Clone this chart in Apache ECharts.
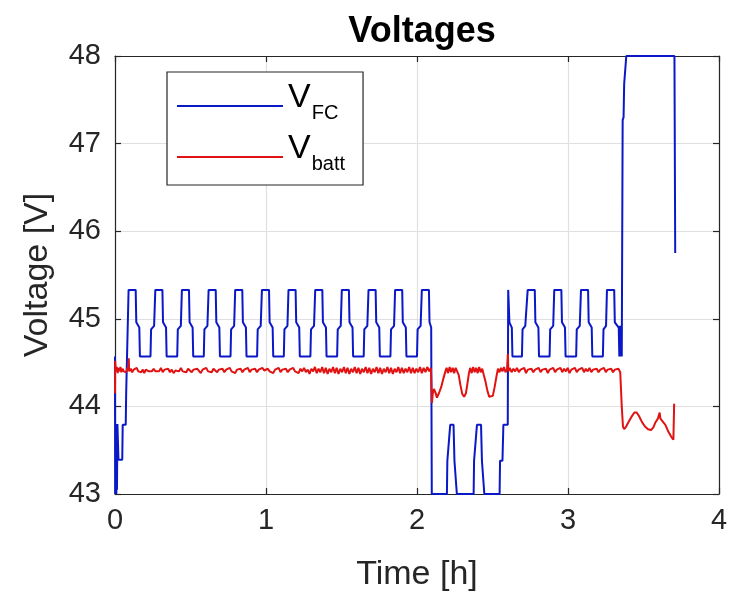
<!DOCTYPE html>
<html>
<head>
<meta charset="utf-8">
<script src="https://cdn.jsdelivr.net/npm/echarts@6/dist/echarts.min.js"></script>
<style>
  html, body { margin: 0; padding: 0; background: #fff; }
  #chart { width: 742px; height: 610px; }
</style>
</head>
<body>
<div id="chart"></div>
<script>
// tick labels
var xTicks = [0, 1, 2, 3, 4];
var yTicks = [43, 44, 45, 46, 47, 48];

// V_FC as [time h, volts]
var vfcStart = [[0.000,44.57],[0.001,43.00],[0.003,43.80],[0.005,43.00],[0.007,43.80],[0.009,43.00],[0.011,43.80],
  [0.013,43.05],[0.016,43.80],[0.020,43.80],[0.023,43.39],[0.048,43.39],[0.051,43.79],[0.071,43.79],[0.074,44.15],[0.084,44.15]];

var vfcBlockA = [
  [0.090,45.33],[0.137,45.33],[0.141,44.96],[0.161,44.90],[0.165,44.57],[0.235,44.57],[0.239,44.88],[0.259,44.92],
  [0.267,45.33],[0.314,45.33],[0.318,44.96],[0.338,44.90],[0.342,44.57],[0.412,44.57],[0.416,44.88],[0.436,44.92],
  [0.443,45.33],[0.490,45.33],[0.494,44.96],[0.514,44.90],[0.518,44.57],[0.588,44.57],[0.592,44.88],[0.612,44.92],
  [0.620,45.33],[0.667,45.33],[0.671,44.96],[0.691,44.90],[0.695,44.57],[0.765,44.57],[0.769,44.88],[0.789,44.92],
  [0.796,45.33],[0.843,45.33],[0.847,44.96],[0.867,44.90],[0.871,44.57],[0.941,44.57],[0.945,44.88],[0.965,44.92],
  [0.973,45.33],[1.020,45.33],[1.024,44.96],[1.044,44.90],[1.048,44.57],[1.118,44.57],[1.122,44.88],[1.142,44.92],
  [1.149,45.33],[1.196,45.33],[1.200,44.96],[1.220,44.90],[1.224,44.57],[1.294,44.57],[1.298,44.88],[1.318,44.92],
  [1.326,45.33],[1.373,45.33],[1.377,44.96],[1.397,44.90],[1.401,44.57],[1.471,44.57],[1.475,44.88],[1.495,44.92],
  [1.502,45.33],[1.549,45.33],[1.553,44.96],[1.573,44.90],[1.577,44.57],[1.647,44.57],[1.651,44.88],[1.671,44.92],
  [1.679,45.33],[1.726,45.33],[1.730,44.96],[1.750,44.90],[1.754,44.57],[1.824,44.57],[1.828,44.88],[1.848,44.92],
  [1.855,45.33],[1.902,45.33],[1.906,44.96],[1.926,44.90],[1.930,44.57],[2.000,44.57],[2.004,44.88],[2.024,44.92],
  [2.032,45.33],[2.079,45.33],[2.083,44.96],[2.094,44.90]];

var vfcLow = [[2.098,43.00],[2.198,43.00],[2.201,43.38],[2.210,43.38],[2.220,43.79],[2.242,43.79],[2.248,43.38],[2.258,43.38],[2.264,43.00],
  [2.375,43.00],[2.378,43.38],[2.388,43.38],[2.397,43.79],[2.424,43.79],[2.430,43.38],[2.440,43.38],[2.446,43.00],
  [2.547,43.00],[2.550,43.38],[2.566,43.38],[2.572,43.79],[2.601,43.79]];

var vfcBlockB = [[2.604,45.33],[2.608,45.33],[2.612,44.96],[2.628,44.90],[2.632,44.57],[2.695,44.57],[2.699,44.88],[2.717,44.92],
  [2.733,45.33],[2.780,45.33],[2.784,44.96],[2.804,44.90],[2.808,44.57],[2.878,44.57],[2.882,44.88],[2.902,44.92],
  [2.909,45.33],[2.956,45.33],[2.960,44.96],[2.980,44.90],[2.984,44.57],[3.054,44.57],[3.058,44.88],[3.078,44.92],
  [3.086,45.33],[3.133,45.33],[3.137,44.96],[3.157,44.90],[3.161,44.57],[3.231,44.57],[3.235,44.88],[3.252,44.92]];

var vfcEnd = [[3.258,45.33],[3.306,45.33],[3.310,44.96],[3.336,44.90],[3.340,44.57],[3.344,44.92],[3.348,44.57],[3.352,44.92],
  [3.356,44.57],[3.362,47.27],[3.368,47.30],[3.372,47.68],[3.380,47.70],[3.386,48.00],[3.705,48.00],[3.710,45.75]];

// V_batt
var battA = [[0.000,44.15],[0.001,44.52],[0.006,44.40],[0.012,44.45],[0.018,44.38],[0.024,44.44],[0.030,44.40],[0.036,44.45],
  [0.042,44.39],[0.050,44.43],[0.058,44.40],[0.066,44.42],[0.074,44.39],[0.082,44.44],[0.088,44.41],[0.091,44.55],[0.094,44.40],
  [0.104,44.43],[0.114,44.39],[0.124,44.42],[0.134,44.40],[0.144,44.44],[0.154,44.40],[0.164,44.42],[0.174,44.39],[0.184,44.42],
  [0.194,44.38],[0.204,44.42],[0.214,44.44],[0.224,44.40],[0.234,44.42],[0.244,44.40],[0.256,44.43],[0.268,44.40],[0.280,44.42],
  [0.292,44.40],[0.304,44.44],[0.316,44.39],[0.328,44.42],[0.340,44.40],[0.352,44.43],[0.364,44.39],[0.376,44.42],[0.388,44.38],
  [0.400,44.41],[0.412,44.43],[0.424,44.40],[0.436,44.44],[0.448,44.40],[0.460,44.42],[0.472,44.39],[0.484,44.43],[0.496,44.41],
  [0.508,44.39],[0.520,44.42],[0.532,44.40],[0.544,44.43],[0.556,44.41],[0.568,44.38],[0.580,44.42],[0.592,44.40],[0.604,44.44],
  [0.616,44.40],[0.628,44.42],[0.640,44.39],[0.652,44.43],[0.664,44.41],[0.676,44.39],[0.688,44.42],[0.700,44.40],[0.712,44.43],
  [0.724,44.39],[0.736,44.42],[0.748,44.40],[0.760,44.44],[0.772,44.40],[0.784,44.42],[0.796,44.38],[0.808,44.42],[0.820,44.40],
  [0.832,44.43],[0.844,44.39],[0.856,44.42],[0.868,44.41],[0.880,44.44],[0.892,44.39],[0.904,44.42],[0.916,44.40],[0.928,44.43],
  [0.940,44.39],[0.952,44.42],[0.964,44.40],[0.976,44.44],[0.988,44.41],[1.000,44.39],[1.012,44.43],[1.024,44.40],[1.036,44.42],
  [1.048,44.38],[1.060,44.42],[1.072,44.40],[1.084,44.44],[1.096,44.39],[1.108,44.42],[1.120,44.40],[1.132,44.43],[1.144,44.39],
  [1.156,44.42],[1.168,44.40],[1.180,44.44],[1.192,44.40],[1.204,44.42],[1.216,44.38],[1.228,44.43],[1.240,44.40],[1.252,44.44],
  [1.264,44.39],[1.276,44.42],[1.288,44.37],[1.300,44.43],[1.312,44.40],[1.324,44.45],[1.336,44.38],[1.348,44.43],[1.360,44.39],
  [1.372,44.45],[1.384,44.38],[1.396,44.44],[1.408,44.37],[1.420,44.43],[1.432,44.39],[1.444,44.45],[1.456,44.38],[1.468,44.44],
  [1.480,44.37],[1.492,44.43],[1.504,44.39],[1.516,44.45],[1.528,44.38],[1.540,44.44],[1.552,44.37],[1.564,44.43],[1.576,44.39],
  [1.588,44.45],[1.600,44.38],[1.612,44.44],[1.624,44.37],[1.636,44.43],[1.648,44.39],[1.660,44.45],[1.672,44.38],[1.684,44.44],
  [1.696,44.37],[1.708,44.43],[1.720,44.39],[1.732,44.45],[1.744,44.38],[1.756,44.44],[1.768,44.37],[1.780,44.43],[1.792,44.39],
  [1.804,44.45],[1.816,44.38],[1.828,44.44],[1.840,44.37],[1.852,44.43],[1.864,44.39],[1.876,44.45],[1.888,44.38],[1.900,44.44],
  [1.912,44.38],[1.924,44.43],[1.936,44.39],[1.948,44.45],[1.960,44.38],[1.972,44.44],[1.984,44.38],[1.996,44.43],[2.008,44.39],
  [2.020,44.45],[2.032,44.38],[2.044,44.44],[2.056,44.39],[2.068,44.45],[2.080,44.40],[2.092,44.44],[2.097,44.42]];

var battDip = [[2.099,44.04],[2.104,44.14],[2.112,44.20],[2.122,44.16],[2.132,44.10],[2.145,44.15],[2.160,44.22],[2.175,44.32],
  [2.188,44.40],[2.196,44.44],[2.206,44.38],[2.216,44.45],[2.226,44.39],[2.236,44.44],[2.246,44.38],[2.256,44.44],[2.266,44.40],
  [2.276,44.36],[2.288,44.24],[2.300,44.14],[2.312,44.11],[2.324,44.15],[2.334,44.26],[2.344,44.38],[2.352,44.44],[2.362,44.38],
  [2.372,44.45],[2.382,44.39],[2.392,44.44],[2.402,44.38],[2.412,44.45],[2.422,44.39],[2.432,44.43],[2.442,44.36],[2.454,44.28],
  [2.466,44.18],[2.478,44.11],[2.490,44.09],[2.502,44.12],[2.514,44.22],[2.526,44.34],[2.536,44.43],[2.546,44.39],[2.556,44.44],
  [2.566,44.40],[2.576,44.45],[2.586,44.39],[2.596,44.42],[2.602,44.60],[2.605,44.40]];

var battB = [[2.614,44.44],[2.626,44.39],[2.638,44.43],[2.650,44.40],[2.662,44.44],[2.674,44.39],[2.686,44.42],[2.698,44.40],
  [2.710,44.44],[2.722,44.38],[2.734,44.42],[2.746,44.40],[2.758,44.43],[2.770,44.39],[2.782,44.42],[2.794,44.40],[2.806,44.44],
  [2.818,44.39],[2.830,44.42],[2.842,44.40],[2.854,44.43],[2.866,44.38],[2.878,44.42],[2.890,44.41],[2.902,44.44],[2.914,44.39],
  [2.926,44.42],[2.938,44.40],[2.950,44.44],[2.962,44.39],[2.974,44.43],[2.986,44.40],[2.998,44.44],[3.010,44.38],[3.022,44.42],
  [3.034,44.40],[3.046,44.44],[3.058,44.39],[3.070,44.42],[3.082,44.40],[3.094,44.44],[3.106,44.39],[3.118,44.43],[3.130,44.40],
  [3.142,44.44],[3.154,44.39],[3.166,44.42],[3.178,44.40],[3.190,44.43],[3.202,44.39],[3.214,44.42],[3.226,44.40],[3.238,44.44],
  [3.250,44.39],[3.262,44.42],[3.274,44.40],[3.286,44.43],[3.298,44.39],[3.310,44.42],[3.322,44.40],[3.334,44.43],[3.346,44.39]];

var battEnd = [[3.350,44.40],[3.356,44.00],[3.364,43.77],[3.372,43.74],[3.385,43.77],[3.400,43.82],[3.420,43.88],[3.440,43.93],
  [3.455,43.93],[3.470,43.89],[3.490,43.82],[3.510,43.77],[3.530,43.74],[3.550,43.73],[3.565,43.76],[3.580,43.82],[3.595,43.86],
  [3.602,43.88],[3.607,43.93],[3.612,43.86],[3.625,43.85],[3.645,43.79],[3.665,43.71],[3.685,43.65],[3.698,43.62],[3.703,44.03]];

var vfc = vfcStart.concat(vfcBlockA, vfcLow, vfcBlockB, vfcEnd);
var vbatt = battA.concat(battDip, battB, battEnd);

var FONT = '"Liberation Sans", Arial, Helvetica, sans-serif';
var AX = '#262626';

var chart = echarts.init(document.getElementById('chart'), null, { renderer: 'canvas' });

var boxAxis = {
  type: 'value',
  axisLine: { show: true, onZero: false, lineStyle: { color: AX, width: 1.2 } },
  axisTick: { show: true, inside: true, length: 6, lineStyle: { color: AX, width: 1.2 } },
  axisLabel: { show: false },
  splitLine: { show: false }
};

var option = {
  animation: false,
  backgroundColor: '#ffffff',
  title: {
    text: 'Voltages',
    left: 417,
    textAlign: 'center',
    top: 9,
    textStyle: { fontFamily: FONT, fontWeight: 'bold', fontSize: 36, color: '#000' }
  },
  legend: {
    orient: 'vertical',
    left: 167,
    top: 72,
    padding: [9, 18, 11, 10],
    itemGap: 9,
    itemWidth: 106,
    itemHeight: 2,
    icon: 'rect',
    backgroundColor: '#fff',
    borderColor: AX,
    borderWidth: 1.2,
    borderRadius: 0,
    data: ['VFC', 'Vbatt'],
    formatter: function (name) {
      return name === 'VFC' ? '{v|V}{s|FC}' : '{v|V}{s|batt}';
    },
    textStyle: {
      fontFamily: FONT,
      color: '#000',
      rich: {
        v: { fontFamily: FONT, fontSize: 34, lineHeight: 34, verticalAlign: 'bottom', padding: [0, 0, 8, 0], color: '#000' },
        s: { fontFamily: FONT, fontSize: 20, lineHeight: 20, verticalAlign: 'bottom', padding: [0, 0, 0, 1], color: '#000' }
      }
    }
  },
  grid: { left: 115, right: 23, top: 56, bottom: 116, containLabel: false },
  xAxis: [
    {
      type: 'value',
      min: 0, max: 4, interval: 1,
      name: 'Time [h]',
      nameLocation: 'middle',
      nameGap: 64,
      nameTextStyle: { fontFamily: FONT, fontSize: 34, color: AX },
      axisLine: { show: true, onZero: false, lineStyle: { color: AX, width: 1.2 } },
      axisTick: { show: true, inside: true, length: 6, lineStyle: { color: AX, width: 1.2 } },
      axisLabel: {
        fontFamily: FONT, fontSize: 29, color: AX, margin: 12,
        formatter: function (v) { return xTicks.indexOf(v) >= 0 ? String(v) : ''; }
      },
      splitLine: { show: true, lineStyle: { color: '#e0e0e0', width: 1.2 } }
    },
    Object.assign({ position: 'top', min: 0, max: 4, interval: 1 }, boxAxis)
  ],
  yAxis: [
    {
      type: 'value',
      min: 43, max: 48, interval: 1,
      name: 'Voltage [V]',
      nameLocation: 'middle',
      nameGap: 60,
      nameTextStyle: { fontFamily: FONT, fontSize: 34, color: AX },
      axisLine: { show: true, onZero: false, lineStyle: { color: AX, width: 1.2 } },
      axisTick: { show: true, inside: true, length: 6, lineStyle: { color: AX, width: 1.2 } },
      axisLabel: {
        fontFamily: FONT, fontSize: 29, color: AX, margin: 14,
        formatter: function (v) { return yTicks.indexOf(v) >= 0 ? String(v) : ''; }
      },
      splitLine: { show: true, lineStyle: { color: '#e0e0e0', width: 1.2 } }
    },
    Object.assign({ position: 'right', min: 43, max: 48, interval: 1 }, boxAxis)
  ],
  series: [
    {
      name: 'VFC',
      type: 'line',
      data: vfc,
      showSymbol: false,
      clip: true,
      itemStyle: { color: '#0a18c8' },
      lineStyle: { color: '#0a18c8', width: 2 }
    },
    {
      name: 'Vbatt',
      type: 'line',
      data: vbatt,
      showSymbol: false,
      clip: true,
      itemStyle: { color: '#e01212' },
      lineStyle: { color: '#e01212', width: 2 }
    }
  ]
};

chart.setOption(option);
</script>
</body>
</html>
